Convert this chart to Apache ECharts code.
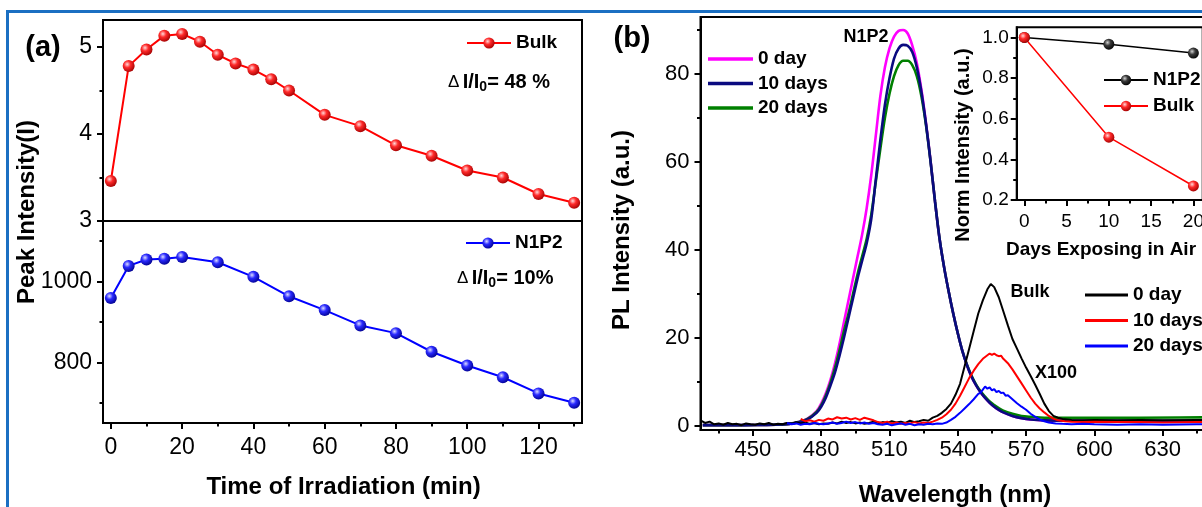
<!DOCTYPE html>
<html><head><meta charset="utf-8">
<script src="https://cdn.jsdelivr.net/npm/echarts@6/dist/echarts.min.js"></script>
<style>html,body{margin:0;padding:0;background:#fff;}#c{width:1202px;height:507px;}</style>
</head><body><div id="c"></div>
<script>
// ---------- Panel (a) data ----------
const bulkTime = [0,5,10,15,20,25,30,35,40,45,50,60,70,80,90,100,110,120,130];
const bulkPeak = [3.46,4.78,4.97,5.13,5.15,5.06,4.91,4.81,4.74,4.63,4.50,4.22,4.09,3.87,3.75,3.58,3.50,3.31,3.21];
const n1p2Time = [0,5,10,15,20,30,40,50,60,70,80,90,100,110,120,130];
const n1p2Peak = [960,1039,1055,1057,1061,1048,1012,964,930,892,873,827,793,764,724,701];
const aXTicks = [0,20,40,60,80,100,120];
const aXMinor = [10,30,50,70,90,110,130];
const aTopYTicks = [3,4,5];
const aTopYMinor = [3.5,4.5];
const aBotYTicks = [800,1000];
const aBotYMinor = [700,900,1100];

// ---------- Panel (b) PL spectra ----------
const wlN = [428,440,452,460,466,470,474,478,480,482,484,486,488,490,492,494,496,498,500,502,504,506,508,510,512,514,516,518,520,522,524,526,528,530,532,534,536,538,540,542,544,546,548,550,552,554,556,558,560,564,568,572,578,590,620,660];
const plN0 = [0.1,0.1,0.15,0.2,0.4,0.8,1.6,3.3,5.0,7.3,10.3,14.0,18.5,23.5,28.5,33.5,38.5,43.5,49.5,57,66,75,81.5,85.8,88.5,89.8,90.0,89.2,86.5,82.5,76.5,69,60.5,51,42.5,36,30.5,25.5,21,17,13.8,11.2,9.2,7.6,6.3,5.2,4.3,3.6,3.0,2.2,1.7,1.4,1.2,1.1,1.0,1.0];
const plN10 = [0.1,0.1,0.15,0.2,0.4,0.7,1.4,2.9,4.3,6.3,9.0,12.0,15.8,20,24.5,29,33.5,37.5,41.5,47,56,65,73,79,83.5,85.8,86.6,86.4,85,81.5,76,68.8,60.3,51,42.5,36,30.5,25.5,21,17,13.8,11.2,9.2,7.6,6.3,5.2,4.3,3.6,3.0,2.2,1.7,1.4,1.2,1.1,1.1,1.1];
const plN20 = [0.1,0.1,0.15,0.2,0.4,0.8,1.5,3.1,4.6,6.8,9.6,13.0,17.0,21.5,25.5,30,34.5,38.5,42.5,48,55.5,63,70,75.5,79.5,82,83,83,82,79.5,75,68.5,60.3,51,42.5,36,30.5,25.5,21,17,13.9,11.4,9.4,7.8,6.6,5.5,4.7,4.0,3.4,2.7,2.2,2.0,1.8,1.8,1.8,1.9];

const wlB0 = [427,429,431,433,435,437,439,441,443,445,447,449,451,453,455,457,459,461,463,465,467,469,471,473,475,477,479,481,483,485,487,489,491,493,495,497,499,501,503,505,507,509,511,513,515,517,519,521,523,525,527,529,531,533,535,537,539,541,543,545,547,549,551,553,554.5,556,558,560,562,564,566,568,570,572,574,576,578,580,582,584,586,590,595,600,610,620,630,645,660];
const plB0 = [1.2,0.6,0.9,0.3,0.5,0.2,0.6,0.3,0.4,0.1,0.5,0.3,0.2,0.5,0.3,0.6,0.2,0.4,0.3,0.6,0.4,0.8,0.5,0.7,0.4,0.6,0.3,0.5,0.4,0.7,0.5,0.9,0.6,0.8,0.5,0.7,0.4,0.6,0.9,0.5,0.8,0.6,1.0,0.7,0.9,0.6,1.1,0.8,1.0,1.3,1.1,1.8,2.2,2.9,3.8,5.0,7.0,9.5,13.5,17.5,21.5,25.5,28.5,31.0,32.2,31.5,29.2,26.0,22.8,19.7,17.5,15.3,13.2,11.3,9.3,7.2,5.0,3.3,2.2,1.8,1.5,1.3,1.2,1.3,1.2,1.3,1.2,1.3,1.2];
const wlB10 = [471,473,475,477,479,481,483,485,487,489,491,493,495,497,499,501,503,505,507,509,511,513,515,517,519,521,523,525,527,529,531,533,535,537,539,541,543,545,547,549,551,553,554,555,556,557,558,559,560,562,564,566,568,570,572,574,576,578,580,582,584,587,590,595,600,610,620,630,645,660];
const plB10 = [1.5,1.0,1.2,0.9,1.3,1.1,1.6,1.4,1.9,1.6,1.8,1.4,1.7,1.3,1.8,1.5,1.2,0.8,0.6,0.9,0.5,0.7,0.4,0.6,0.5,0.8,0.5,0.7,0.6,0.9,1.3,1.8,2.6,3.6,5.0,6.8,8.8,10.8,12.5,14.0,15.2,16.0,16.4,16.1,16.4,16.0,15.8,15.9,15.2,14.2,12.8,11.2,9.6,8.0,6.4,5.0,3.9,3.0,2.2,1.6,1.2,1.0,0.9,0.8,0.9,0.8,0.8,0.7,0.8,0.8];
const wlB20 = [465,467,469,471,473,475,477,479,481,483,485,487,489,491,493,495,497,499,501,503,505,507,509,511,513,515,517,519,521,523,525,527,529,531,533,535,537,539,541,543,545,547,549,550,551,552,553,554,555,556,557,558,559,560,561,562,564,566,568,570,572,574,576,578,580,583,586,590,595,600,610,620,630,645,660];
const plB20 = [0.6,0.3,0.5,0.2,0.4,0.3,0.6,0.4,0.3,0.5,0.7,0.4,0.6,0.9,0.6,0.8,0.5,0.7,0.4,0.6,0.3,0.2,0.4,0.1,0.3,0.5,0.2,0.4,0.1,0.3,0.2,0.4,0.3,0.5,0.4,0.7,1.3,2.0,2.9,3.9,4.9,6.0,7.2,7.5,8.2,8.9,8.4,8.7,8.0,8.3,7.6,7.9,7.4,7.5,6.8,6.9,6.0,5.1,4.3,3.6,2.7,2.0,1.4,1.0,0.7,0.5,0.4,0.3,0.4,0.3,0.2,0.3,0.2,0.3,0.2];
const bXTicks = [450,480,510,540,570,600,630];
const bXMinor = [435,465,495,525,555,585,615,645];
const bYTicks = [0,20,40,60,80];
const bYMinor = [10,30,50,70,90];

// ---------- Inset data ----------
const days = [0,10,20];
const normN1P2 = [1.0,0.967,0.923];
const normBulk = [1.0,0.509,0.269];
const iXTicks = [0,5,10,15,20];
const iXMinor = [2.5,7.5,12.5,17.5];
const iYTicks = [0.2,0.4,0.6,0.8,1.0];
const iYMinor = [0.3,0.5,0.7,0.9];

const FONT = "'Liberation Sans', Arial, Helvetica, sans-serif";
const zip = (xs, ys) => xs.map((x, i) => [x, ys[i]]);
const ball = (c0, c1, c2) => ({type:'radial', x:0.38, y:0.35, r:0.7,
  colorStops:[{offset:0,color:c0},{offset:0.4,color:c1},{offset:1,color:c2}]});
const redBall = ball('#ffd8d8', '#ff2a2a', '#a00000');
const blueBall = ball('#dcdcff', '#2a2aff', '#00008c');
const blackBall = ball('#d0d0d0', '#3a3a3a', '#000000');
const plain = v => String(v);

function axis(dim, gridIndex, min, max, opt) {
  const pos = dim === 'x' ? 'bottom' : 'left';
  return {
    type: 'value', gridIndex, min, max, position: pos,
    axisLine: {show: opt.line !== false, onZero: false, lineStyle: {color: '#000', width: 2}},
    axisTick: opt.ticks ? {show: true, customValues: opt.ticks, length: opt.tickLen || 6, lineStyle: {color: '#000', width: 2}} : {show: false},
    axisLabel: opt.labels ? {show: true, customValues: opt.labels, margin: opt.margin, fontSize: opt.fontSize,
      fontFamily: FONT, color: '#000', formatter: opt.formatter || plain} : {show: false},
    splitLine: {show: false}
  };
}

const chart = echarts.init(document.getElementById('c'));
const legendText = {fontFamily: FONT, fontWeight: 'bold', fontSize: 19, color: '#000', lineHeight: 20};
const legendBase = {padding: 0, selectedMode: false, orient: 'vertical', textStyle: legendText,
  formatter: n => n.split('_')[0]};

const txt = (text, x, y, size, rot) => ({
  type: 'text', x, y, rotation: rot || 0, silent: true,
  style: {text, fontFamily: FONT, fontWeight: 'bold', fontSize: size, fill: '#000', align: 'center', verticalAlign: 'middle'}
});

const deltaText = (pct, x, y) => ({
  type: 'text', x, y, silent: true,
  style: {
    text: '{d|Δ} {t|I/I}{s|0}{t|= ' + pct + '}',
    align: 'left', verticalAlign: 'middle',
    rich: {
      d: {fontFamily: FONT, fontSize: 17, fontWeight: 'normal', fill: '#000', lineHeight: 24},
      t: {fontFamily: FONT, fontSize: 20, fontWeight: 'bold', fill: '#000', lineHeight: 24},
      s: {fontFamily: FONT, fontSize: 14, fontWeight: 'bold', fill: '#000', lineHeight: 8, verticalAlign: 'bottom'}
    }
  }
});

const gridBase = {show: true, borderColor: '#000', borderWidth: 2, backgroundColor: 'transparent', outerBoundsMode: 'none', containLabel: false};

const option = {
  animation: false,
  backgroundColor: '#fff',
  grid: [
    Object.assign({}, gridBase, {left: 103, top: 20, width: 479, height: 201}),
    Object.assign({}, gridBase, {left: 103, top: 221, width: 479, height: 202}),
    Object.assign({}, gridBase, {left: 700.5, top: 17, width: 530.5, height: 413}),
    Object.assign({}, gridBase, {left: 1016.7, top: 27.3, width: 186, height: 172.7})
  ],
  xAxis: [
    axis('x', 0, -2.2, 132.2, {}),
    axis('x', 1, -2.2, 132.2, {ticks: aXTicks, labels: aXTicks, margin: 13, fontSize: 23}),
    axis('x', 1, -2.2, 132.2, {line: false, ticks: aXMinor, tickLen: 3.5}),
    axis('x', 2, 427, 660, {ticks: bXTicks, labels: bXTicks, margin: 9, fontSize: 22}),
    axis('x', 2, 427, 660, {line: false, ticks: bXMinor, tickLen: 3.5}),
    axis('x', 3, -0.9, 21.1, {ticks: iXTicks, labels: iXTicks, margin: 12, fontSize: 19}),
    axis('x', 3, -0.9, 21.1, {line: false, ticks: iXMinor, tickLen: 3.5})
  ],
  yAxis: [
    axis('y', 0, 3, 5.31, {ticks: aTopYTicks, labels: aTopYTicks, margin: 11, fontSize: 23}),
    axis('y', 0, 3, 5.31, {line: false, ticks: aTopYMinor, tickLen: 3.5}),
    axis('y', 1, 651, 1150, {ticks: aBotYTicks, labels: aBotYTicks, margin: 11, fontSize: 23}),
    axis('y', 1, 651, 1150, {line: false, ticks: aBotYMinor, tickLen: 3.5}),
    axis('y', 2, -1, 92.95, {ticks: bYTicks, labels: bYTicks, margin: 11, fontSize: 22}),
    axis('y', 2, -1, 92.95, {line: false, ticks: bYMinor, tickLen: 3.5}),
    axis('y', 3, 0.2, 1.05, {ticks: iYTicks, labels: iYTicks, margin: 8, fontSize: 19, formatter: v => Number(v).toFixed(1)}),
    axis('y', 3, 0.2, 1.05, {line: false, ticks: iYMinor, tickLen: 3.5})
  ],
  legend: [
    Object.assign({}, legendBase, {data: ['Bulk_a'], left: 466, top: 33, itemWidth: 44, itemHeight: 14}),
    Object.assign({}, legendBase, {data: ['N1P2_a'], left: 465, top: 233, itemWidth: 44, itemHeight: 14}),
    Object.assign({}, legendBase, {data: ['0 day_n', '10 days_n', '20 days_n'], left: 708, top: 49, itemGap: 4.5, itemWidth: 45, itemHeight: 3.5, icon: 'rect'}),
    Object.assign({}, legendBase, {data: ['0 day_b', '10 days_b', '20 days_b'], left: 1085, top: 285, itemGap: 5.5, itemWidth: 43, itemHeight: 3, icon: 'rect'}),
    Object.assign({}, legendBase, {data: ['N1P2_i', 'Bulk_i'], left: 1103, top: 70, itemGap: 6, itemWidth: 44, itemHeight: 13})
  ],
  series: [
    {type: 'line', name: 'Bulk_a', xAxisIndex: 0, yAxisIndex: 0, data: zip(bulkTime, bulkPeak),
      symbol: 'circle', symbolSize: 12, lineStyle: {color: '#ff0000', width: 2}, itemStyle: {color: redBall}, z: 4},
    {type: 'line', name: 'N1P2_a', xAxisIndex: 1, yAxisIndex: 2, data: zip(n1p2Time, n1p2Peak),
      symbol: 'circle', symbolSize: 12, lineStyle: {color: '#0000ff', width: 2}, itemStyle: {color: blueBall}, z: 4},
    {type: 'line', name: '0 day_n', xAxisIndex: 3, yAxisIndex: 4, data: zip(wlN, plN0), symbol: 'none', smooth: 0.3,
      lineStyle: {color: '#ff00ff', width: 2.6}, itemStyle: {color: '#ff00ff'}, z: 2},
    {type: 'line', name: '20 days_n', xAxisIndex: 3, yAxisIndex: 4, data: zip(wlN, plN20), symbol: 'none', smooth: 0.3,
      lineStyle: {color: '#008000', width: 2.6}, itemStyle: {color: '#008000'}, z: 2},
    {type: 'line', name: '10 days_n', xAxisIndex: 3, yAxisIndex: 4, data: zip(wlN, plN10), symbol: 'none', smooth: 0.3,
      lineStyle: {color: '#0a0a80', width: 2.6}, itemStyle: {color: '#0a0a80'}, z: 2},
    {type: 'line', name: '0 day_b', xAxisIndex: 3, yAxisIndex: 4, data: zip(wlB0, plB0), symbol: 'none',
      lineStyle: {color: '#000000', width: 2}, itemStyle: {color: '#000000'}, z: 3},
    {type: 'line', name: '10 days_b', xAxisIndex: 3, yAxisIndex: 4, data: zip(wlB10, plB10), symbol: 'none',
      lineStyle: {color: '#ff0000', width: 2}, itemStyle: {color: '#ff0000'}, z: 3},
    {type: 'line', name: '20 days_b', xAxisIndex: 3, yAxisIndex: 4, data: zip(wlB20, plB20), symbol: 'none',
      lineStyle: {color: '#0000ff', width: 2}, itemStyle: {color: '#0000ff'}, z: 3},
    {type: 'line', name: 'N1P2_i', xAxisIndex: 5, yAxisIndex: 6, data: zip(days, normN1P2),
      symbol: 'circle', symbolSize: 11, lineStyle: {color: '#000', width: 1.5}, itemStyle: {color: blackBall}, z: 4},
    {type: 'line', name: 'Bulk_i', xAxisIndex: 5, yAxisIndex: 6, data: zip(days, normBulk),
      symbol: 'circle', symbolSize: 11, lineStyle: {color: '#ff0000', width: 1.5}, itemStyle: {color: redBall}, z: 4}
  ],
  graphic: [
    {type: 'rect', shape: {x: 6, y: 10, width: 1200, height: 3}, style: {fill: '#1b6fc2'}, silent: true},
    {type: 'rect', shape: {x: 6, y: 10, width: 3, height: 500}, style: {fill: '#1b6fc2'}, silent: true},
    txt('(a)', 43, 48, 29),
    txt('(b)', 632, 39, 29),
    txt('Peak Intensity(I)', 27, 212, 24, Math.PI / 2),
    txt('Time of Irradiation (min)', 343.5, 487, 24),
    txt('PL Intensity (a.u.)', 622, 230, 24, Math.PI / 2),
    txt('Wavelength (nm)', 955, 495, 24),
    txt('Norm Intensity (a.u.)', 963, 145, 20, Math.PI / 2),
    txt('Days Exposing in Air', 1101, 250, 19),
    txt('N1P2', 866, 37, 18),
    txt('Bulk', 1030, 292, 18),
    txt('X100', 1056, 373, 18),
    deltaText('48 %', 448, 82),
    deltaText('10%', 457, 278)
  ]
};
chart.setOption(option);
</script>
</body></html>
